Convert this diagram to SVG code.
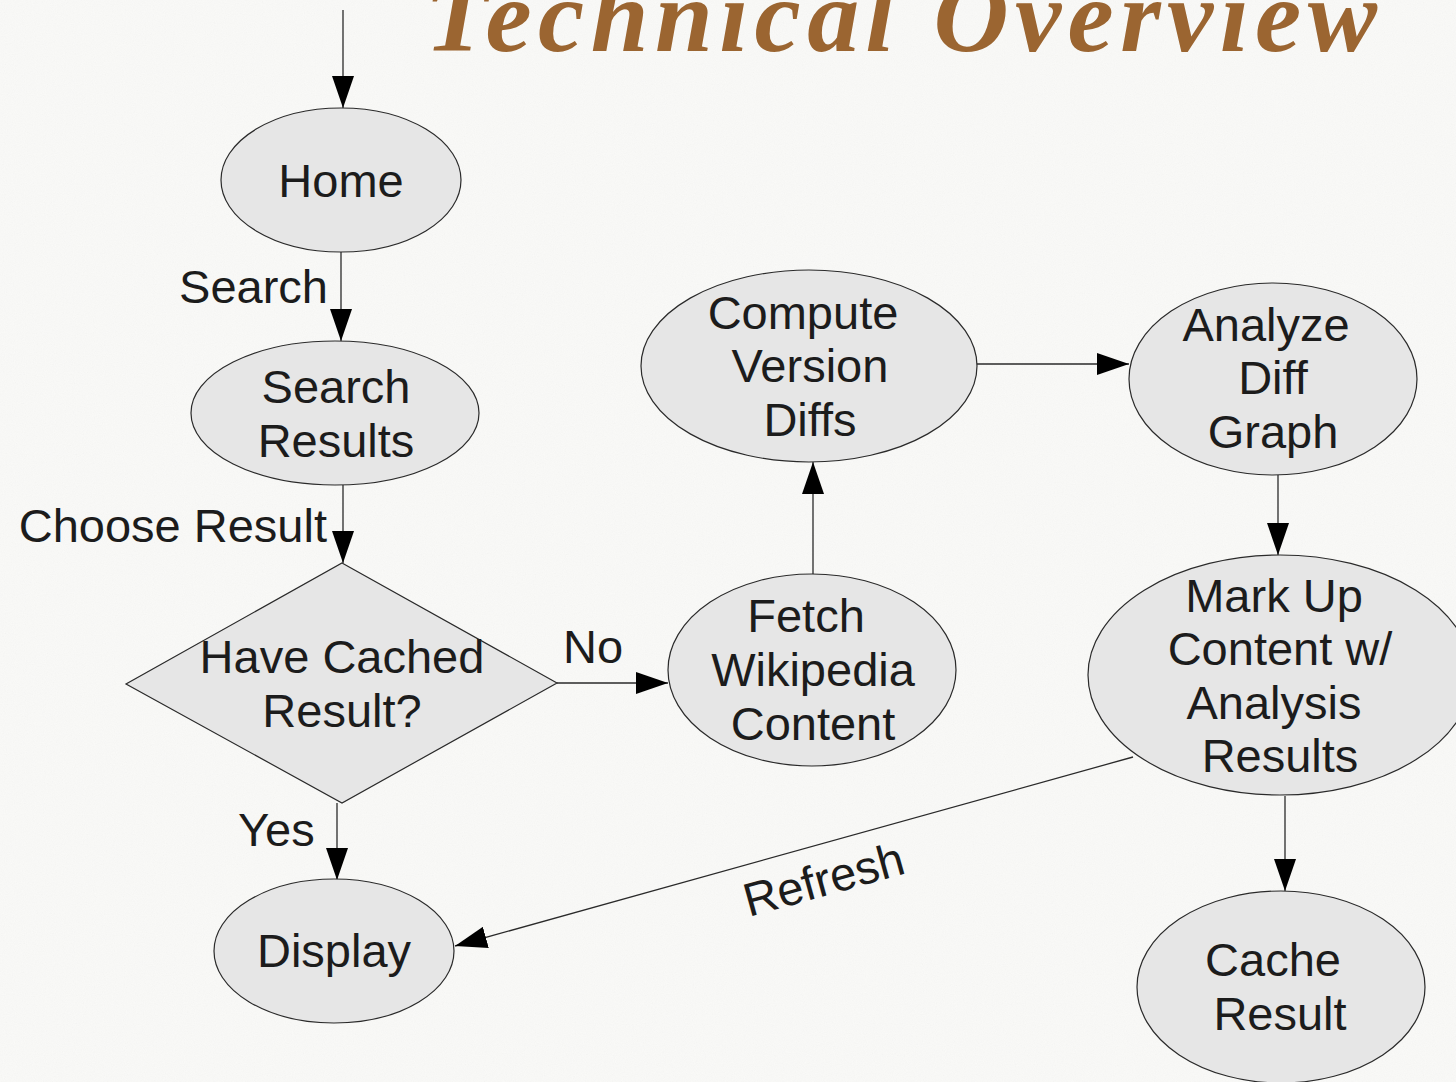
<svg xmlns="http://www.w3.org/2000/svg" width="1456" height="1082" viewBox="0 0 1456 1082">
  <style>
    .node { fill: #e6e6e6; stroke: #2a2a2a; stroke-width: 1.2; }
    .lbl { font-family: "Liberation Sans", Arial, sans-serif; font-size: 47px; fill: #1c1c1c; text-anchor: middle; }
    .elbl { font-family: "Liberation Sans", Arial, sans-serif; font-size: 47px; fill: #1c1c1c; }
    .edge { stroke: #2a2a2a; stroke-width: 1.3; fill: none; marker-end: url(#arrow); }
    .title { font-family: "Liberation Serif", "Times New Roman", serif; font-size: 104px; font-weight: bold; font-style: italic; fill: #9b6531; }
  </style>
  <defs>
    <marker id="arrow" markerUnits="userSpaceOnUse" markerWidth="32" markerHeight="22" refX="32" refY="11" orient="auto">
      <path d="M0,0 L32,11 L0,22 Z" fill="#000"/>
    </marker>
    <filter id="paper" x="0" y="0" width="100%" height="100%">
      <feTurbulence type="fractalNoise" baseFrequency="0.9" numOctaves="3" seed="7" result="n"/>
      <feColorMatrix in="n" type="matrix" values="0.33 0.33 0.33 0 0  0.33 0.33 0.33 0 0  0.33 0.33 0.33 0 0  0 0 0 0 1"/>
    </filter>
  </defs>

  <rect x="0" y="0" width="1456" height="1082" fill="#fcfcfa"/>
  <rect x="0" y="0" width="1456" height="1082" filter="url(#paper)" opacity="0.06"/>

  <text class="title" x="425" y="51" textLength="952" lengthAdjust="spacing">Technical Overview</text>

  <g id="connectors">
    <line class="edge" x1="343" y1="10" x2="343" y2="108"/>
    <line class="edge" x1="341" y1="252" x2="341" y2="341"/>
    <line class="edge" x1="343" y1="485" x2="343" y2="563"/>
    <line class="edge" x1="337" y1="803" x2="337" y2="880"/>
    <line class="edge" x1="557" y1="683" x2="668" y2="683"/>
    <line class="edge" x1="813" y1="574" x2="813" y2="462"/>
    <line class="edge" x1="977" y1="364" x2="1129" y2="364"/>
    <line class="edge" x1="1278" y1="475" x2="1278" y2="555"/>
    <line class="edge" x1="1285" y1="796" x2="1285" y2="891"/>
    <line class="edge" x1="1133" y1="757" x2="455" y2="946"/>
    <text class="elbl" x="328" y="303" text-anchor="end">Search</text>
    <text class="elbl" x="327" y="542" text-anchor="end">Choose Result</text>
    <text class="elbl" x="563" y="663">No</text>
    <text class="elbl" x="238" y="846">Yes</text>
    <text class="elbl" x="828" y="895" text-anchor="middle" transform="rotate(-15.5 828 895)">Refresh</text>
  </g>

  <g id="home">
    <ellipse class="node" cx="341" cy="180" rx="120" ry="72"/>
    <text class="lbl" x="341" y="197">Home</text>
  </g>

  <g id="search-results">
    <ellipse class="node" cx="335" cy="413" rx="144" ry="72"/>
    <text class="lbl" x="336" y="403">Search</text>
    <text class="lbl" x="336" y="457">Results</text>
  </g>

  <g id="have-cached">
    <polygon class="node" points="342,563 557,683 342,803 126,684"/>
    <text class="lbl" x="342" y="673">Have Cached</text>
    <text class="lbl" x="342" y="727">Result?</text>
  </g>

  <g id="display">
    <ellipse class="node" cx="334" cy="951" rx="120" ry="72"/>
    <text class="lbl" x="334" y="967">Display</text>
  </g>

  <g id="fetch">
    <ellipse class="node" cx="812" cy="670" rx="144" ry="96"/>
    <text class="lbl" x="806" y="632">Fetch</text>
    <text class="lbl" x="813" y="686">Wikipedia</text>
    <text class="lbl" x="813" y="740">Content</text>
  </g>

  <g id="compute">
    <ellipse class="node" cx="809" cy="366" rx="168" ry="96"/>
    <text class="lbl" x="803" y="329">Compute</text>
    <text class="lbl" x="810" y="382">Version</text>
    <text class="lbl" x="810" y="436">Diffs</text>
  </g>

  <g id="analyze">
    <ellipse class="node" cx="1273" cy="379" rx="144" ry="96"/>
    <text class="lbl" x="1266" y="341">Analyze</text>
    <text class="lbl" x="1273" y="394">Diff</text>
    <text class="lbl" x="1273" y="448">Graph</text>
  </g>

  <g id="markup">
    <ellipse class="node" cx="1280" cy="675" rx="192" ry="120"/>
    <text class="lbl" x="1274" y="612">Mark Up</text>
    <text class="lbl" x="1280" y="665">Content w/</text>
    <text class="lbl" x="1274" y="719">Analysis</text>
    <text class="lbl" x="1280" y="772">Results</text>
  </g>

  <g id="cache">
    <ellipse class="node" cx="1281" cy="987" rx="144" ry="96"/>
    <text class="lbl" x="1273" y="976">Cache</text>
    <text class="lbl" x="1280" y="1030">Result</text>
  </g>
</svg>
